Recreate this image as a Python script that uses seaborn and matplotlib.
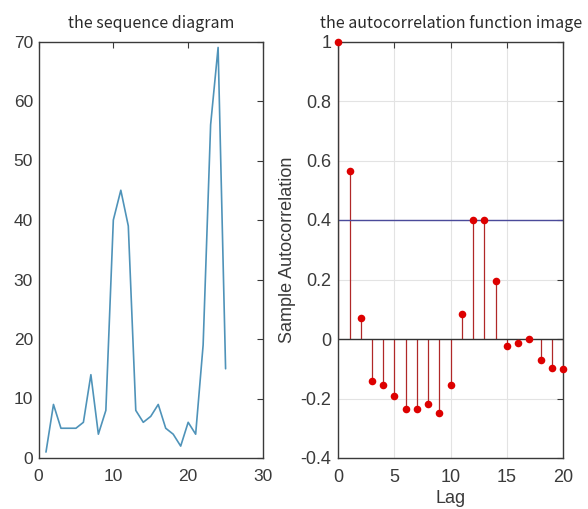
import numpy as np
import pandas as pd
import matplotlib
matplotlib.use("Agg")
import matplotlib.pyplot as plt
import seaborn as sns

# ---- data ----
seq_index = list(range(1, 26))
seq_values = [1, 9, 5, 5, 5, 6, 14, 4, 8, 40, 45, 39, 8, 6, 7, 9, 5, 4, 2, 6, 4, 19, 56, 69, 15]

lags = list(range(0, 21))
acf_values = [1.0, 0.565, 0.07, -0.14, -0.155, -0.19, -0.235, -0.235, -0.22, -0.25,
              -0.155, 0.085, 0.40, 0.40, 0.195, -0.025, -0.012, 0.0, -0.07, -0.098, -0.10]
conf_bound = 0.4

left_xticks = [0, 10, 20, 30]
left_yticks = [0, 10, 20, 30, 40, 50, 60, 70]
right_xticks = [0, 5, 10, 15, 20]
right_yticks = [-0.4, -0.2, 0, 0.2, 0.4, 0.6, 0.8, 1]
right_yticklabels = ["-0.4", "-0.2", "0", "0.2", "0.4", "0.6", "0.8", "1"]

title_left = "the sequence diagram"
title_right = "the autocorrelation function image"
xlabel_right = "Lag"
ylabel_right = "Sample Autocorrelation"

sns.set_theme(style="white")
plt.rcParams['font.family'] = ['Liberation Sans', 'DejaVu Sans']

fig = plt.figure(figsize=(5.88, 5.09), dpi=100)
W, H = 588, 509
ax1 = fig.add_axes([38.5 / W, 1 - 458 / H, (263 - 38.5) / W, (458 - 41.5) / H])
ax2 = fig.add_axes([338.3 / W, 1 - 458 / H, (563 - 338.3) / W, (458 - 41.5) / H])

spine_col = "#3a3a3a"
tick_col = "#3a3a3a"
title_fam = ['Noto Sans CJK SC', 'DejaVu Sans']

# ---- left: sequence ----
df_seq = pd.DataFrame({"t": seq_index, "v": seq_values})
sns.lineplot(data=df_seq, x="t", y="v", ax=ax1, color="#4f93b9", linewidth=1.2)
ax1.set_xlim(0, 30)
ax1.set_ylim(0, 70)
ax1.set_xticks(left_xticks)
ax1.set_yticks(left_yticks)
ax1.set_xlabel("")
ax1.set_ylabel("")
ax1.tick_params(axis="both", direction="in", top=True, right=True, length=4,
                width=0.8, color=spine_col, labelsize=12.5, labelcolor=tick_col)
ax1.tick_params(axis="x", pad=8)
ax1.tick_params(axis="y", pad=4)
ax1.set_title(title_left, fontsize=11.5, family=title_fam, fontweight="light",
              color="#2a2a2a", pad=10)

# ---- right: ACF stem ----
ax2.grid(True, color="#e3e3e3", linewidth=0.8)
ax2.set_axisbelow(True)
ax2.vlines(lags, 0, acf_values, color="#b02828", linewidth=0.9, zorder=2)
ax2.axhline(0, color="#333333", linewidth=1.0, zorder=2)
ax2.axhline(conf_bound, color="#4a4a9a", linewidth=1.0, zorder=2)
df_acf = pd.DataFrame({"lag": lags, "acf": acf_values})
sns.scatterplot(data=df_acf, x="lag", y="acf", ax=ax2, color="#dd0000",
                s=30, edgecolor="#dd0000", linewidth=0, zorder=3, clip_on=False)
ax2.set_xlim(0, 20)
ax2.set_ylim(-0.4, 1)
ax2.set_xticks(right_xticks)
ax2.set_yticks(right_yticks)
ax2.set_yticklabels(right_yticklabels)
ax2.set_xlabel(xlabel_right, fontsize=13, color=tick_col, labelpad=3)
ax2.set_ylabel(ylabel_right, fontsize=13, color=tick_col, labelpad=3)
ax2.tick_params(axis="both", direction="in", top=True, right=True, length=4,
                width=0.8, color=spine_col, labelsize=13, labelcolor=tick_col)
ax2.tick_params(axis="x", pad=8)
ax2.tick_params(axis="y", pad=5)
ax2.set_title(title_right, fontsize=11.5, family=title_fam, fontweight="light",
              color="#2a2a2a", pad=10)

for ax in (ax1, ax2):
    for s in ax.spines.values():
        s.set_visible(True)
        s.set_color(spine_col)
        s.set_linewidth(1.0)

fig.savefig("out.png", dpi=100)
